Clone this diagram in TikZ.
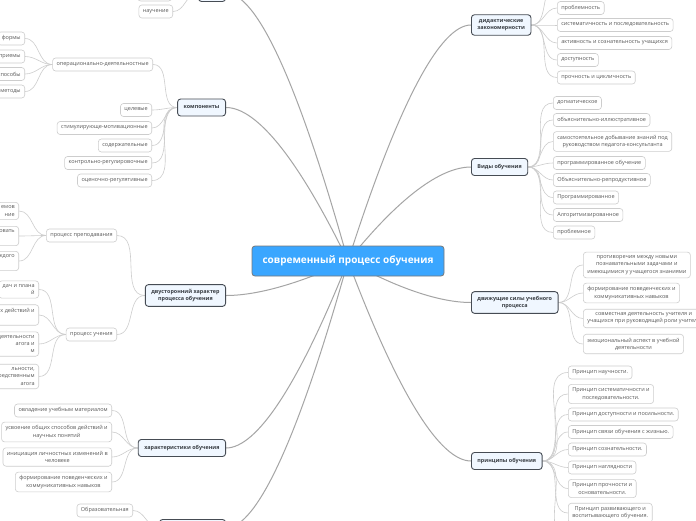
\documentclass[tikz,border=0pt]{standalone}
\usepackage{fontspec}
\setmainfont{Open Sans}
\usetikzlibrary{calc, backgrounds}
\definecolor{map-blue}{RGB}{58,166,255}
\definecolor{map-edge}{RGB}{120,120,120}
\definecolor{map-dark}{RGB}{70,76,84}
\definecolor{map-pale}{RGB}{240,247,255}
\definecolor{map-line}{RGB}{165,165,165}
\definecolor{map-twig}{RGB}{205,205,205}
\definecolor{map-text}{RGB}{90,90,90}

\begin{document}
\begin{tikzpicture}[
    x=1pt, y=-1pt,
    %% central topic
    mainbox/.style  = {rectangle, rounded corners=3pt,
                       draw=map-edge, line width=0.8pt, fill=map-blue,
                       minimum width=192pt, minimum height=30pt,
                       font=\fontsize{10}{12}\selectfont\bfseries, text=white},
    %% first level topics
    topicbox/.style = {rectangle, rounded corners=3pt,
                       draw=map-dark, line width=0.9pt, fill=map-pale,
                       minimum height=17pt, inner xsep=6pt, inner ysep=4.5pt,
                       font=\fontsize{5.4}{7.2}\selectfont\bfseries,
                       text=map-dark!80!black, align=center},
    %% leaves
    leafbox/.style  = {rectangle, rounded corners=3pt,
                       draw=map-twig, line width=0.6pt, fill=white,
                       minimum height=13pt, inner xsep=4pt, inner ysep=3.5pt,
                       font=\fontsize{5.5}{7.2}\selectfont,
                       text=map-text, align=center},
    trunk/.style    = {draw=map-line, line width=1pt,
                       to path={let \p1=(\tikztostart), \p2=(\tikztotarget) in
                         .. controls ({\x1+0.41*(\x2-\x1)},{\y1+0.67*(\y2-\y1)})
                                 and ({\x2-0.25*(\x2-\x1)},{\y2}) .. (\tikztotarget)}},
    twig/.style     = {draw=map-twig, line width=0.6pt},
]
\useasboundingbox (0,0) rectangle (696,520);

%% ---- centre ----
\node[mainbox] (main) at (348,261) {современный процесс обучения};

%% ---- left topics ----
\node[topicbox, anchor=east, minimum width=27pt] (topx) at (226,-7) {};
\node[topicbox, anchor=east] (comp)  at (226,107.5) {компоненты};
\node[topicbox, anchor=east] (dual)  at (226,295.5) {двусторонний характер\\процесса обучения};
\node[topicbox, anchor=east] (chars) at (226,448) {характеристики обучения};
\node[topicbox, anchor=east, minimum width=66pt] (botx) at (226,528) {};

%% ---- right topics ----
\node[topicbox, anchor=west] (laws)   at (471,25)    {дидактические\\закономерности};
\node[topicbox, anchor=west] (kinds)  at (471,167)   {Виды обучения};
\node[topicbox, anchor=west] (forces) at (471,302.5) {движущие силы учебного\\процесса};
\node[topicbox, anchor=west] (princ)  at (471,461)   {принципы обучения};

%% ---- top left leaves ----
\node[leafbox, anchor=east, minimum width=34pt] (topleaf) at (172,-5.5) {};
\node[leafbox, anchor=east] (nauch) at (173,11.5) {научение};

%% ---- компоненты ----
\node[leafbox, anchor=east] (oper) at (153,64.5)  {операционально-деятельностные};
\node[leafbox, anchor=east] (goal) at (152,110)   {целевые};
\node[leafbox, anchor=east] (stim) at (152,128)   {стимулирующе-мотивационные};
\node[leafbox, anchor=east] (cont) at (152,145.5) {содержательные};
\node[leafbox, anchor=east] (ctrl) at (152,163)   {контрольно-регулировочные};
\node[leafbox, anchor=east] (eval) at (152,180.5) {оценочно-регулятивные};

\node[leafbox, anchor=east] (forms) at (25,38.5) {формы};
\node[leafbox, anchor=east] (tech)  at (25,56.5) {приемы};
\node[leafbox, anchor=east] (ways)  at (25,74)   {способы};
\node[leafbox, anchor=east] (meth)  at (25,91.5) {методы};

%% ---- двусторонний характер ----
\node[leafbox, anchor=east] (teach) at (117,235.5) {процесс преподавания};
\node[leafbox, anchor=east] (learn) at (117,334.5) {процесс учения};

\node[leafbox, anchor=east, align=right] (t1) at (19,211) {емов\\ние};
\node[leafbox, anchor=east, align=right] (t2) at (19,236) {овать\\\strut};
\node[leafbox, anchor=east, align=right] (t3) at (19,261) {ждого\\\strut};

\node[leafbox, anchor=east, align=right] (u1) at (39,289.5) {дач и плана\\й};
\node[leafbox, anchor=east, align=right] (u2) at (39,315)   {х действий и\\\strut};
\node[leafbox, anchor=east, align=right] (u3) at (39,344)   {деятельности\\агога и\\м};
\node[leafbox, anchor=east, align=right] (u4) at (39,376.5) {льности,\\осредственным\\агога};

%% ---- характеристики обучения ----
\node[leafbox, anchor=east] (c1) at (112,410.5) {овладение учебным материалом};
\node[leafbox, anchor=east] (c2) at (112,432)   {усвоение общих способов действий и\\научных понятий};
\node[leafbox, anchor=east] (c3) at (112,457)   {инициация личностных изменений в\\человеке};
\node[leafbox, anchor=east] (c4) at (112,482)   {формирование поведенческих и\\коммуникативных навыков};
\node[leafbox, anchor=east] (edu) at (133,510.5) {Образовательная};

%% ---- дидактические закономерности ----
\coordinate (lawsx) at (557,-14);
\node[leafbox, anchor=west] (l1) at (557,8)    {проблемность};
\node[leafbox, anchor=west] (l2) at (557,25)   {систематичность и последовательность};
\node[leafbox, anchor=west] (l3) at (557,43)   {активность и сознательность учащихся};
\node[leafbox, anchor=west] (l4) at (557,60)   {доступность};
\node[leafbox, anchor=west] (l5) at (557,77.5) {прочность и цикличность};

%% ---- виды обучения ----
\node[leafbox, anchor=west] (k1) at (553,103)   {догматическое};
\node[leafbox, anchor=west] (k2) at (553,120)   {объяснительно-иллюстративное};
\node[leafbox, anchor=west] (k3) at (553,141.5) {самостоятельное добывание знаний под\\руководством педагога-консультанта};
\node[leafbox, anchor=west] (k4) at (553,163)   {программированное обучение};
\node[leafbox, anchor=west] (k5) at (553,180)   {Объяснительно-репродуктивное};
\node[leafbox, anchor=west] (k6) at (553,197.5) {Программированное};
\node[leafbox, anchor=west] (k7) at (553,215)   {Алгоритмизированное};
\node[leafbox, anchor=west] (k8) at (553,232.5) {проблемное};

%% ---- движущие силы ----
\node[leafbox, anchor=west] (f1) at (583,265)   {противоречия между новыми\\познавательными задачами и\\имеющимися у учащегося знаниями};
\node[leafbox, anchor=west] (f2) at (583,293)   {формирование поведенческих и\\коммуникативных навыков};
\node[leafbox, anchor=west] (f3) at (583,318.5) {совместная деятельность учителя и\\учащихся при руководящей роли учителя};
\node[leafbox, anchor=west] (f4) at (583,344)   {эмоциональный аспект в учебной\\деятельности};

%% ---- принципы обучения ----
\coordinate (princx) at (568,538);
\node[leafbox, anchor=west] (p1) at (568,372.5) {Принцип научности.};
\node[leafbox, anchor=west] (p2) at (568,394)   {Принцип систематичности и\\последовательности.};
\node[leafbox, anchor=west] (p3) at (568,414.5) {Принцип доступности и посильности.};
\node[leafbox, anchor=west] (p4) at (568,432)   {Принцип связи обучения с жизнью.};
\node[leafbox, anchor=west] (p5) at (568,449.5) {Принцип сознательности.};
\node[leafbox, anchor=west] (p6) at (568,467.5) {Принцип наглядности};
\node[leafbox, anchor=west] (p7) at (568,488.5) {Принцип прочности и\\основательности.};
\node[leafbox, anchor=west] (p8) at (568,513)   {Принцип развивающего и\\воспитывающего обучения.};

%% ---- connectors ----
\begin{scope}[on background layer]
\fill[white] (0,0) rectangle (696,520);

%% centre -> topics
\draw[trunk] (main.center) to (topx.east);
\draw[trunk] (main.center) to (comp.east);
\draw[trunk] (main.center) to (dual.east);
\draw[trunk] (main.center) to (chars.east);
\draw[trunk] (main.center) to (botx.east);
\draw[trunk] (main.center) to (laws.west);
\draw[trunk] (main.center) to (kinds.west);
\draw[trunk] (main.center) to (forces.west);
\draw[trunk] (main.center) to (princ.west);

%% top left
\draw[twig] (topx.west) to[out=180, in=0] (topleaf.east);
\draw[twig] (topx.west) to[out=180, in=0] (nauch.east);

%% компоненты
\draw[twig] (comp.west) to[out=180, in=0] (oper.east);
\draw[twig] (comp.west) to[out=180, in=0] (goal.east);
\draw[twig] (comp.west) to[out=180, in=0] (stim.east);
\draw[twig] (comp.west) to[out=180, in=0] (cont.east);
\draw[twig] (comp.west) to[out=180, in=0] (ctrl.east);
\draw[twig] (comp.west) to[out=180, in=0] (eval.east);
\draw[twig] (oper.west) to[out=180, in=0] (forms.east);
\draw[twig] (oper.west) to[out=180, in=0] (tech.east);
\draw[twig] (oper.west) to[out=180, in=0] (ways.east);
\draw[twig] (oper.west) to[out=180, in=0] (meth.east);

%% двусторонний характер
\draw[twig] (dual.west) to[out=180, in=0] (teach.east);
\draw[twig] (dual.west) to[out=180, in=0] (learn.east);
\draw[twig] (teach.west) to[out=180, in=0] (t1.east);
\draw[twig] (teach.west) to[out=180, in=0] (t2.east);
\draw[twig] (teach.west) to[out=180, in=0] (t3.east);
\draw[twig] (learn.west) to[out=180, in=0] (u1.east);
\draw[twig] (learn.west) to[out=180, in=0] (u2.east);
\draw[twig] (learn.west) to[out=180, in=0] (u3.east);
\draw[twig] (learn.west) to[out=180, in=0] (u4.east);

%% характеристики
\draw[twig] (chars.west) to[out=180, in=0] (c1.east);
\draw[twig] (chars.west) to[out=180, in=0] (c2.east);
\draw[twig] (chars.west) to[out=180, in=0] (c3.east);
\draw[twig] (chars.west) to[out=180, in=0] (c4.east);
\draw[twig] (botx.west) to[out=180, in=0] (edu.east);

%% right side
\draw[twig] (laws.east) to[out=0, in=180] (lawsx);
\draw[twig] (laws.east) to[out=0, in=180] (l1.west);
\draw[twig] (laws.east) to[out=0, in=180] (l2.west);
\draw[twig] (laws.east) to[out=0, in=180] (l3.west);
\draw[twig] (laws.east) to[out=0, in=180] (l4.west);
\draw[twig] (laws.east) to[out=0, in=180] (l5.west);

\draw[twig] (kinds.east) to[out=0, in=180] (k1.west);
\draw[twig] (kinds.east) to[out=0, in=180] (k2.west);
\draw[twig] (kinds.east) to[out=0, in=180] (k3.west);
\draw[twig] (kinds.east) to[out=0, in=180] (k4.west);
\draw[twig] (kinds.east) to[out=0, in=180] (k5.west);
\draw[twig] (kinds.east) to[out=0, in=180] (k6.west);
\draw[twig] (kinds.east) to[out=0, in=180] (k7.west);
\draw[twig] (kinds.east) to[out=0, in=180] (k8.west);

\draw[twig] (forces.east) to[out=0, in=180] (f1.west);
\draw[twig] (forces.east) to[out=0, in=180] (f2.west);
\draw[twig] (forces.east) to[out=0, in=180] (f3.west);
\draw[twig] (forces.east) to[out=0, in=180] (f4.west);

\draw[twig] (princ.east) to[out=0, in=180] (p1.west);
\draw[twig] (princ.east) to[out=0, in=180] (p2.west);
\draw[twig] (princ.east) to[out=0, in=180] (p3.west);
\draw[twig] (princ.east) to[out=0, in=180] (p4.west);
\draw[twig] (princ.east) to[out=0, in=180] (p5.west);
\draw[twig] (princ.east) to[out=0, in=180] (p6.west);
\draw[twig] (princ.east) to[out=0, in=180] (p7.west);
\draw[twig] (princ.east) to[out=0, in=180] (p8.west);
\draw[twig] (princ.east) to[out=0, in=180] (princx);
\end{scope}

\end{tikzpicture}
\end{document}
